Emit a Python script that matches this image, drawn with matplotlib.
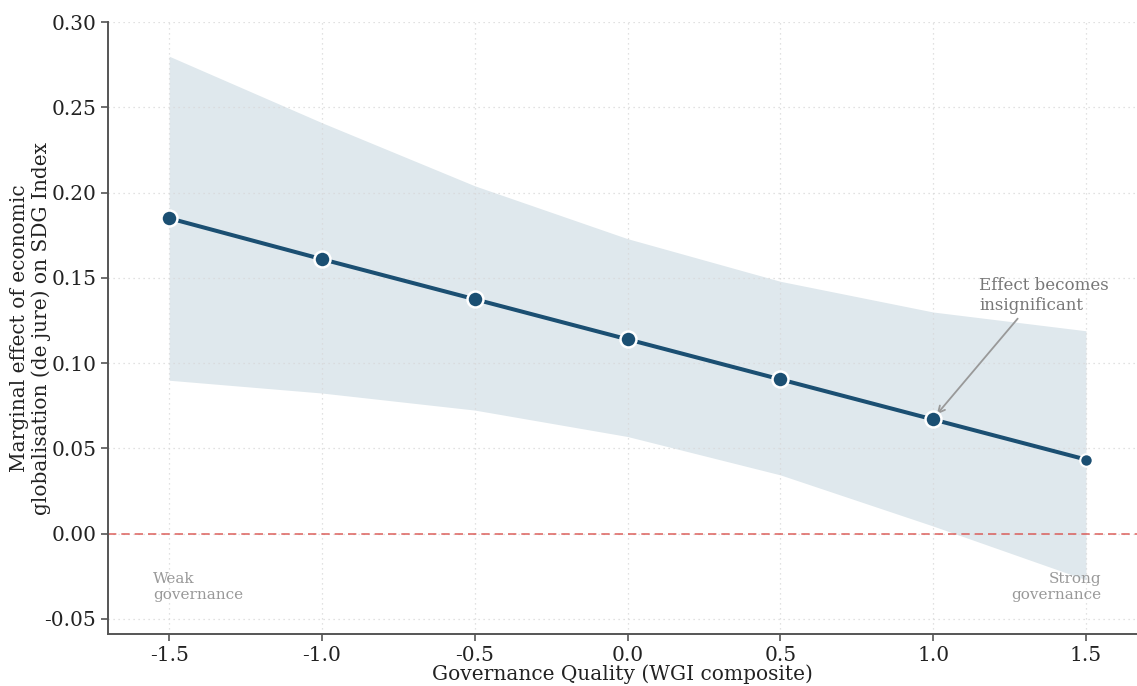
import numpy as np
import matplotlib
matplotlib.use('Agg')
import matplotlib.pyplot as plt

# ── data ──────────────────────────────────────────────────────────────────────
governance = [-1.5, -1.0, -0.5, 0.0, 0.5, 1.0, 1.5]
marginal_effect = [0.185, 0.161, 0.1375, 0.114, 0.0905, 0.067, 0.0435]
ci_upper = [0.280, 0.241, 0.204, 0.173, 0.148, 0.130, 0.119]
ci_lower = [0.090, 0.0825, 0.0725, 0.057, 0.0345, 0.0045, -0.027]
y_ticks = [-0.05, 0.00, 0.05, 0.10, 0.15, 0.20, 0.25, 0.30]

LINE_C = '#1b4f72'
plt.rcParams['font.family'] = ['DejaVu Serif']
plt.rcParams['axes.unicode_minus'] = False

fig = plt.figure(figsize=(11.37, 6.86), dpi=100)
ax = fig.add_axes([0.095, 0.0758, 0.905, 0.892])

# ── band + line ──
ax.fill_between(governance, ci_lower, ci_upper, color='#dfe8ed',
                linewidth=0, zorder=0.2)
ax.axhline(0, color='#d9534f', lw=1.2, ls=(0, (5, 3)), alpha=0.85, zorder=2)
ax.plot(governance[:-1], marginal_effect[:-1], color=LINE_C, lw=2.9,
        marker='o', ms=11.5, mfc=LINE_C, mec='white', mew=1.8, zorder=4)
ax.plot(governance[-2:], marginal_effect[-2:], color=LINE_C, lw=2.9, zorder=3)
ax.plot(governance[-1:], marginal_effect[-1:], 'o', ms=9, mfc=LINE_C,
        mec='white', mew=1.5, zorder=4)

# ── annotations ──
ax.annotate('Effect becomes\ninsignificant',
            xy=(governance[5] + 0.012, marginal_effect[5] + 0.003),
            xytext=(1.15, 0.129), ha='left', va='bottom',
            fontsize=12, color='#777777',
            arrowprops=dict(arrowstyle='->', color='#999999', lw=1.3,
                            shrinkA=2, shrinkB=0, relpos=(0.33, 0)))
ax.text(-1.553, -0.0312, 'Weak\ngovernance', ha='left', va='center',
        fontsize=11, color='#999999')
ax.text(1.549, -0.0312, 'Strong\ngovernance', ha='right', va='center',
        multialignment='right', fontsize=11, color='#999999')

# ── axes styling ──
ax.set_xlim(-1.7, 1.667)
ax.set_ylim(-0.0588, 0.30)
ax.set_xticks(governance)
ax.set_yticks(y_ticks)
ax.xaxis.set_major_formatter(plt.FormatStrFormatter('%.1f'))
ax.yaxis.set_major_formatter(plt.FormatStrFormatter('%.2f'))
ax.tick_params(labelsize=14.5, color='#555555', length=5, width=1.2,
               labelcolor='#222222')
ax.grid(True, color='#d8d8d8', ls=(0, (1, 3)), lw=0.9, zorder=0.5)
ax.set_axisbelow(True)
for s in ['top', 'right']:
    ax.spines[s].set_visible(False)
for s in ['left', 'bottom']:
    ax.spines[s].set_color('#555555')
    ax.spines[s].set_linewidth(1.4)

ax.set_xlabel('Governance Quality (WGI composite)', fontsize=14.5,
              color='#222222', labelpad=0)
ax.set_ylabel('Marginal effect of economic\nglobalisation (de jure) on SDG Index',
              fontsize=14.5, color='#222222')
ax.yaxis.set_label_coords(-0.055, 0.5)

fig.savefig('out.png', dpi=100)
